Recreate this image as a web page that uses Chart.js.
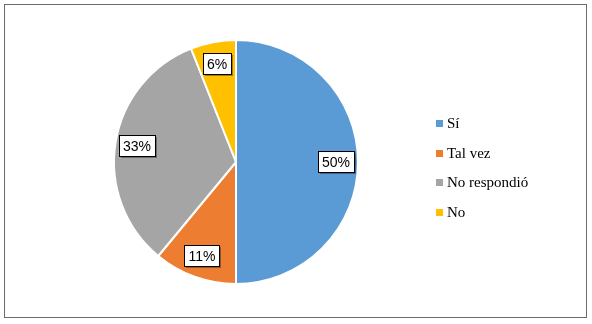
<!DOCTYPE html>
<html>
<head>
<meta charset="utf-8">
<script src="https://cdn.jsdelivr.net/npm/chart.js@4/dist/chart.umd.min.js"></script>
<style>
  html, body { margin: 0; padding: 0; background: #fff; }
  #wrap { width: 592px; height: 324px; position: relative; }
</style>
</head>
<body>
<div id="wrap"><canvas id="chart" width="592" height="324"></canvas></div>
<script>
const categories = ["Sí", "Tal vez", "No respondió", "No"];
const values = [50, 11, 33, 6];
const colors = ["#5B9BD5", "#ED7D31", "#A5A5A5", "#FFC000"];

// frame around the whole chart
const framePlugin = {
  id: "frame",
  beforeDraw(chart) {
    const ctx = chart.ctx;
    ctx.save();
    ctx.fillStyle = "#fff";
    ctx.fillRect(0, 0, chart.width, chart.height);
    ctx.strokeStyle = "#6b6b6b";
    ctx.lineWidth = 1;
    ctx.strokeRect(4.5, 4.5, 582, 313);
    ctx.restore();
  },
};

// boxed percent labels inside the slices
const labelPlugin = {
  id: "boxLabels",
  afterDatasetsDraw(chart) {
    const ctx = chart.ctx;
    const meta = chart.getDatasetMeta(0);
    const total = values.reduce((a, b) => a + b, 0);
    ctx.save();
    ctx.font = "14px 'Liberation Sans', Arial, sans-serif";
    ctx.textAlign = "center";
    ctx.textBaseline = "middle";
    meta.data.forEach((arc, i) => {
      const mid = (arc.startAngle + arc.endAngle) / 2;
      const r = arc.outerRadius * 0.82;
      const x = Math.round(arc.x + Math.cos(mid) * r);
      const y = Math.round(arc.y + Math.sin(mid) * r);
      const text = Math.round((values[i] / total) * 100) + "%";
      const w = Math.round(ctx.measureText(text).width) + 8;
      const h = 21;
      const bx = x - Math.round(w / 2) + 0.5;
      const by = y - Math.round(h / 2) + 0.5;
      ctx.fillStyle = "rgba(0,0,0,0.35)";
      ctx.fillRect(bx + 1.5, by + 1.5, w, h);
      ctx.fillStyle = "#fff";
      ctx.fillRect(bx, by, w, h);
      ctx.strokeStyle = "#000";
      ctx.lineWidth = 1;
      ctx.strokeRect(bx, by, w, h);
      ctx.fillStyle = "#000";
      ctx.fillText(text, x, y + 1);
    });
    ctx.restore();
  },
};

// legend on the right
const legendPlugin = {
  id: "sideLegend",
  afterDraw(chart) {
    const ctx = chart.ctx;
    ctx.save();
    ctx.font = "15px 'Liberation Serif', 'Times New Roman', serif";
    ctx.textBaseline = "middle";
    categories.forEach((c, i) => {
      const y = 123 + i * 29.7;
      ctx.fillStyle = colors[i];
      ctx.fillRect(436, Math.round(y) - 3, 7, 7);
      ctx.fillStyle = "#000";
      ctx.fillText(c, 447, y + 1);
    });
    ctx.restore();
  },
};

new Chart(document.getElementById("chart").getContext("2d"), {
  type: "pie",
  data: {
    labels: categories,
    datasets: [
      {
        data: values,
        backgroundColor: colors,
        borderColor: "#fff",
        borderWidth: 2,
      },
    ],
  },
  options: {
    responsive: false,
    animation: false,
    layout: {
      padding: { top: 39, bottom: 39, left: 113, right: 233 },
    },
    plugins: {
      legend: { display: false },
      tooltip: { enabled: false },
    },
  },
  plugins: [framePlugin, labelPlugin, legendPlugin],
});
</script>
</body>
</html>
